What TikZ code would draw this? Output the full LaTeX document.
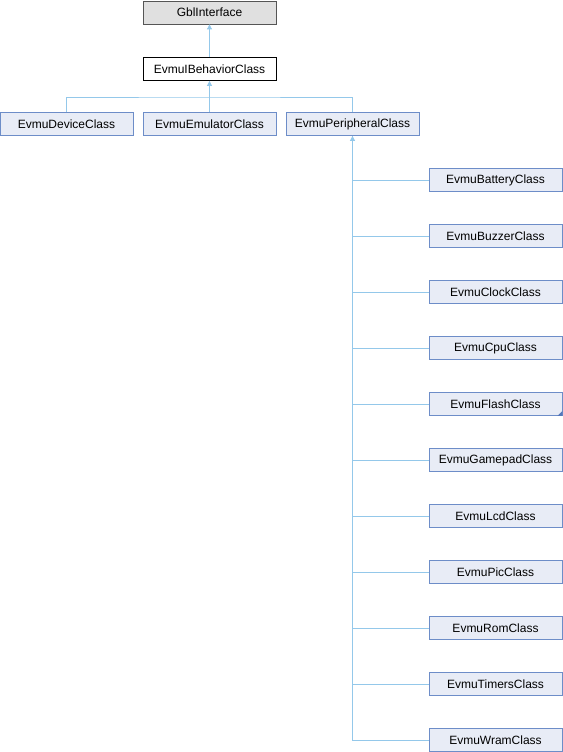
\documentclass[tikz,border=0pt]{standalone}
\usepackage{fontspec}
\setmainfont{Liberation Sans}
\usetikzlibrary{arrows.meta,calc}
\definecolor{boxfill}{HTML}{E8ECF6}
\definecolor{boxline}{HTML}{6D8DC8}
\definecolor{edgec}{HTML}{94C8EA}
\definecolor{greyfill}{HTML}{E0E0E0}
\definecolor{greyline}{HTML}{555555}
\definecolor{cornerc}{HTML}{5577BB}
\begin{document}
\begin{tikzpicture}[x=1pt,y=-1pt,
  cls/.style={draw=boxline,fill=boxfill,line width=0.8pt,minimum width=133pt,minimum height=23pt,inner sep=0pt,font=\fontsize{12}{14}\selectfont},
  ext/.style={cls,draw=greyline,fill=greyfill},
  cur/.style={cls,draw=black,fill=white},
  inh/.style={draw=edgec,line width=0.8pt,-{Triangle[length=5pt,width=5pt,fill=edgec]}}]
\useasboundingbox (0,0) rectangle (562,752);
\node[ext] (gbl) at (209.5,12.5) {GblInterface};
\node[cur] (beh) at (209.5,69) {EvmuIBehaviorClass};
\node[cls] (dev) at (66.5,124) {EvmuDeviceClass};
\node[cls] (emu) at (209.5,124) {EvmuEmulatorClass};
\node[cls] (per) at (352.5,124) {EvmuPeripheralClass};
\foreach \n/\t [count=\i from 0] in {bat/EvmuBatteryClass,buz/EvmuBuzzerClass,clk/EvmuClockClass,cpu/EvmuCpuClass,fla/EvmuFlashClass,pad/EvmuGamepadClass,lcd/EvmuLcdClass,pic/EvmuPicClass,rom/EvmuRomClass,tim/EvmuTimersClass,wrm/EvmuWramClass}
  \node[cls] (\n) at (495.5,180+56*\i) {\t};
\fill[cornerc] ($(fla.south east)+(-5,0)$) -- (fla.south east) -- ($(fla.south east)+(0,-5)$) -- cycle;
\draw[inh] (beh.north) -- (gbl.south);
\draw[inh] (emu.north) -- (beh.south);
\coordinate (bus) at (209.5,97);
\draw[edgec,line width=0.8pt] (dev.north) |- (bus) -| (per.north);
\foreach \n in {bat,buz,clk,cpu,fla,pad,lcd,pic,rom,tim}
  \draw[edgec,line width=0.8pt] (\n.west) -| (per.south);
\draw[inh] (wrm.west) -| (per.south);
\end{tikzpicture}
\end{document}
